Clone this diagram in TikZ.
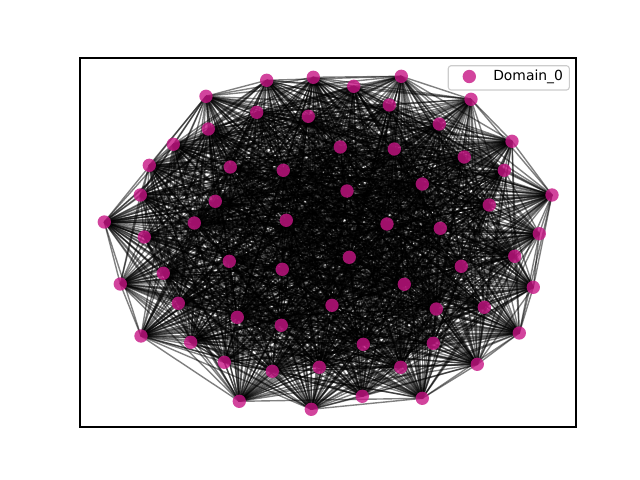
\documentclass[tikz,border=0pt]{standalone}
\usepackage{fontspec}
\setmainfont{DejaVu Sans}
\definecolor{mvr}{RGB}{199,21,133}
\definecolor{legedge}{RGB}{204,204,204}
\begin{document}
\begin{tikzpicture}[x=0.72pt,y=-0.72pt,
  dot/.style={circle,fill=mvr,fill opacity=0.8,draw=none,minimum size=9.6pt,inner sep=0pt},
  edge/.style={black,opacity=0.5,line width=1pt},
  frame/.style={black,line width=0.8pt},
  legbox/.style={draw=legedge,fill=white,fill opacity=0.8,rounded corners=2pt,line width=0.8pt}]
\useasboundingbox (0,0) rectangle (640,480);
\foreach \k/\x/\y in {
1/266.7/80.3, 2/313.3/77.3, 3/353.7/86.3, 4/401.3/76.3, 5/206/96.3, 6/471/99.3,
7/256.7/112.3, 8/308.3/116.3, 9/389.3/105, 10/208.3/129, 11/439.3/124, 12/173.3/144.3,
13/512/141.3, 14/340.3/147, 15/394.3/149, 16/149.3/165.3, 17/230.3/167, 18/283.3/170.3,
19/464.3/157, 20/504.3/170.3, 21/140.3/195, 22/347/191, 23/422.3/184, 24/552/195,
25/215.3/201.3, 26/489.3/205, 27/104.3/222, 28/194.3/223, 29/286.3/220.3, 30/387/224,
31/440.3/228.3, 32/144.3/237, 33/539.3/233.7, 34/229.3/261.3, 35/349.3/257.3, 36/514.7/256.3,
37/163.3/273.3, 38/282.3/269.3, 39/461.3/266.3, 40/120.3/284, 41/404.3/284.3, 42/533.3/287.3,
43/178.3/303.3, 44/332/305.3, 45/484.3/307.3, 46/237.3/317.3, 47/436.3/309, 48/281.3/325.3,
49/519.3/333, 50/141/336, 51/363.3/344.3, 52/190.7/342.3, 53/433.3/343.3, 54/224.3/362.3,
55/272.3/371.3, 56/319.3/367.3, 57/400.7/367.3, 58/477.3/364.3, 59/239.3/401.3, 60/311.3/409.3,
61/362.3/396.3, 62/422.3/398.3}
  \coordinate (p\k) at (\x,\y);
\pgfmathsetseed{7}
\foreach \i in {1,...,61}{
  \pgfmathtruncatemacro\s{\i+1}
  \foreach \j in {\s,...,62}{
    \pgfmathtruncatemacro\ok{100*rnd}
    \ifnum\ok<78 \draw[edge] (p\i) -- (p\j); \fi
  }
}
\foreach \k in {1,...,62} \node[dot] (n\k) at (p\k) {};
\draw[frame] (80,58) rectangle (576,427);
\draw[legbox] (448.3,65.7) rectangle (569.3,90);
\node[dot] (legdot) at (469.3,76.5) {};
\node[anchor=west,inner sep=0pt,font=\fontsize{10}{12}\selectfont] (legtext) at (493,77) {Domain\_0};
\end{tikzpicture}
\end{document}
